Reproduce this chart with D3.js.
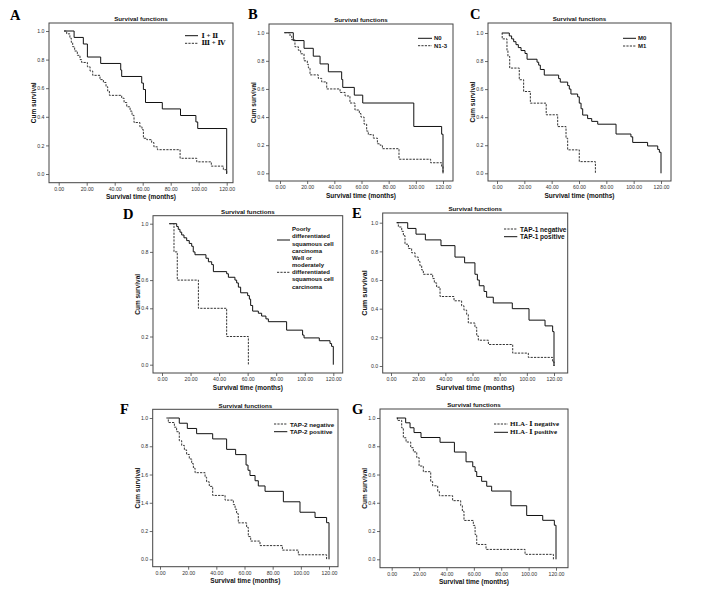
<!DOCTYPE html>
<html><head><meta charset="utf-8">
<script src="https://cdn.jsdelivr.net/npm/d3@7"></script>
<style>body{margin:0;background:#fff}svg{display:block}</style>
</head><body>
<svg id="c" width="708" height="590"></svg>
<script>
// ---------- data ----------
const xTicks = [0, 20, 40, 60, 80, 100, 120];
const yTicks = [0, 0.2, 0.4, 0.6, 0.8, 1.0];
const yTickLabels = ["0.0", "0.2", "0.4", "0.6", "0.8", "1.0"];
const yTickLabelsF = ["0.0", "0.2", "1.4", "1.6", "0.8", "1.0"];
const panelLetters = ["A", "B", "C", "D", "E", "F", "G"];
const chartTitle = "Survival functions";
const xTitle = "Survival time (months)";
const yTitle = "Cum survival";

const legendA = ["Ⅰ + Ⅱ", "Ⅲ + Ⅳ"];
const legendB = ["N0", "N1-3"];
const legendC = ["M0", "M1"];
const legendD1 = ["Poorly", "differentiated", "squamous cell", "carcinoma"];
const legendD2 = ["Well or", "moderately", "differentiated", "squamous cell", "carcinoma"];
const legendE = ["TAP-1 negative", "TAP-1 positive"];
const legendF = ["TAP-2 negative", "TAP-2 positive"];
const legendG = ["HLA- Ⅰ negative", "HLA- Ⅰ positive"];

// [time (months), cumulative survival]
const stageI_II = [[3.8,1],[11,0.955],[17.6,0.909],[20.5,0.818],[30,0.773],[44.3,0.727],[45,0.682],[59.3,0.636],[60.5,0.591],[62,0.5],[74,0.455],[87,0.409],[98,0.364],[99.3,0.318],[120,0]];
const stageIII_IV = [[3.8,1],[5.7,0.98],[8,0.95],[9,0.92],[10,0.89],[11.4,0.86],[13.3,0.83],[15.2,0.8],[16.4,0.78],[20.5,0.75],[22.4,0.72],[24.3,0.69],[29.5,0.66],[31.9,0.64],[33.8,0.61],[35,0.58],[36.2,0.55],[45,0.53],[46.7,0.5],[48.6,0.47],[51,0.44],[52.4,0.41],[53.8,0.36],[58,0.33],[59.5,0.31],[60.5,0.25],[62.9,0.24],[66.4,0.22],[68,0.19],[70.5,0.17],[86.7,0.11],[98.6,0.085],[109,0.055],[117.6,0.03],[120,0]];

const nodeN0 = [[3.2,1],[9.8,0.944],[17.7,0.889],[24.5,0.833],[29.5,0.778],[35.6,0.722],[45.4,0.667],[46.2,0.611],[54.7,0.556],[60.9,0.5],[98.5,0.333],[119,0.278],[120,0]];
const nodeN13 = [[3.2,1],[7.4,0.975],[8.6,0.95],[11,0.9],[13.5,0.875],[15.2,0.85],[17.7,0.8],[20.1,0.775],[20.9,0.75],[22.1,0.7],[28.2,0.675],[30.7,0.65],[34.4,0.6],[44.2,0.575],[47.9,0.55],[51.5,0.5],[55.2,0.45],[58.4,0.425],[59.6,0.4],[61.9,0.35],[63.8,0.3],[65,0.275],[68.7,0.25],[71.7,0.21],[73.6,0.2],[75.4,0.175],[87.6,0.1],[110.9,0.075],[119,0.05],[120,0]];

const metaM0 = [[3.7,1],[9,0.979],[10.7,0.958],[12.2,0.938],[13.9,0.917],[15.6,0.896],[17.6,0.875],[20.5,0.854],[22,0.813],[29.3,0.792],[30.5,0.771],[31.7,0.74],[34.6,0.7],[45.1,0.675],[46.3,0.65],[51.7,0.625],[52.9,0.6],[54.1,0.565],[59,0.545],[60.2,0.5],[61.5,0.46],[62.7,0.415],[66.3,0.39],[69.3,0.37],[73.7,0.35],[87.1,0.28],[98,0.26],[99.3,0.22],[110.2,0.195],[117.6,0.17],[118.8,0.15],[120,0]];
const metaM1 = [[3.5,1],[3.8,0.958],[7.3,0.875],[8,0.833],[9.3,0.75],[16.3,0.667],[19.5,0.583],[24.4,0.5],[36,0.417],[44.4,0.333],[50.5,0.25],[51.7,0.167],[60.2,0.083],[72,0]];

const diffPoor = [[5.1,1],[10.3,0.98],[11.4,0.96],[12.6,0.94],[13.8,0.92],[15.4,0.9],[17.3,0.88],[19.1,0.86],[20.8,0.84],[21.9,0.8],[23.1,0.78],[30.8,0.755],[32.5,0.73],[34.8,0.71],[36,0.66],[45.3,0.645],[46.5,0.62],[51.1,0.6],[52.3,0.58],[53.5,0.55],[55.1,0.51],[60,0.49],[61.2,0.465],[62.1,0.42],[63.5,0.38],[67.5,0.365],[69.8,0.345],[72.8,0.325],[74.5,0.305],[87.3,0.245],[98.5,0.21],[99.5,0.19],[110.2,0.17],[117.7,0.15],[118.8,0.13],[120,0]];
const diffWell = [[5.1,1],[8.4,0.8],[10.7,0.6],[25.5,0.4],[45.3,0.2],[60.5,0]];

const tap1Neg = [[4.2,1],[5.4,0.97],[7.9,0.94],[9.1,0.91],[10.3,0.85],[12.8,0.82],[15.2,0.79],[17.7,0.76],[20.1,0.73],[21.3,0.7],[22.6,0.67],[23.8,0.64],[30.7,0.61],[31.9,0.58],[33.6,0.55],[36.1,0.485],[46.4,0.455],[52,0.42],[53.7,0.39],[55.7,0.36],[56.9,0.3],[61.8,0.27],[63.1,0.21],[64.3,0.18],[71.7,0.15],[89.6,0.09],[101.1,0.06],[119,0.03],[120,0]];
const tap1Pos = [[4.2,1],[12.3,0.96],[18.4,0.92],[25.3,0.88],[36.8,0.84],[47.1,0.76],[54.2,0.72],[61.8,0.64],[63.6,0.6],[65,0.56],[68.5,0.52],[70.4,0.48],[75.3,0.44],[89.3,0.4],[101.6,0.32],[113.4,0.28],[119,0.24],[120,0]];

const tap2Neg = [[4.5,1],[5.9,0.968],[10.2,0.935],[11.8,0.903],[13.7,0.839],[15.4,0.806],[17.3,0.774],[18.9,0.742],[20.8,0.71],[22.5,0.677],[23.7,0.645],[24.9,0.613],[32,0.581],[33.1,0.548],[35,0.516],[37.4,0.452],[46.2,0.419],[52.1,0.387],[53.3,0.355],[54.4,0.323],[55.6,0.258],[61.5,0.226],[62.7,0.161],[64.4,0.129],[71,0.097],[86.9,0.065],[98.2,0.032],[118.3,0]];
const tap2Pos = [[5.9,1],[13.7,0.963],[19.4,0.926],[26,0.889],[37.4,0.852],[47.3,0.778],[53.7,0.741],[61.1,0.667],[62.5,0.63],[63.9,0.593],[67.5,0.556],[69.8,0.519],[74.6,0.481],[87.6,0.407],[99.4,0.333],[110.1,0.296],[118.3,0.259],[120,0]];

const hlaNeg = [[3.7,1],[4.2,0.983],[7.3,0.93],[8.5,0.86],[10.5,0.83],[13.9,0.79],[15.8,0.76],[18.3,0.72],[20,0.66],[23.1,0.62],[28.5,0.55],[29.9,0.52],[33.6,0.48],[34.8,0.45],[44.5,0.415],[50.4,0.38],[51.6,0.34],[52.8,0.275],[59.6,0.24],[60.9,0.175],[62.1,0.105],[68.9,0.07],[97.4,0.035],[118.1,0]];
const hlaPos = [[3.7,1],[10.2,0.966],[13.4,0.931],[16.3,0.897],[21.4,0.862],[35.3,0.828],[45.8,0.759],[54.3,0.69],[59.2,0.655],[60.9,0.621],[62.1,0.586],[65.7,0.552],[69.4,0.517],[73,0.483],[87.1,0.379],[98.6,0.31],[110.3,0.276],[118.8,0.241],[120,0]];

// ---------- layout ----------
const SANS = "'Liberation Sans', Arial, sans-serif";
const SERIF = "'Liberation Serif', 'DejaVu Serif', 'Noto Sans CJK SC', serif";
const panels = [
  {f:[49,23,233,182.7], xr:[58.7,226.7], yr:[174,31], letter:[10,20], yl:yTickLabels, fs:1,
   series:[{d:stageI_II,dash:false},{d:stageIII_IV,dash:true}],
   legend:{lx:[185,198], tx:201.5, items:[{y:35.7,dash:false,lines:[legendA[0]]},{y:43.3,dash:true,lines:[legendA[1]]}], font:SERIF, size:7}},
  {f:[269,24,453,181], xr:[280,443], yr:[173.3,32.7], letter:[248,19], yl:yTickLabels, fs:1,
   series:[{d:nodeN0,dash:false},{d:nodeN13,dash:true}],
   legend:{lx:[418,432], tx:434, items:[{y:38.3,dash:false,lines:[legendB[0]]},{y:45.7,dash:true,lines:[legendB[1]]}], font:SANS, size:6}},
  {f:[488,23,671,181], xr:[497,661], yr:[173.3,33], letter:[470,19], yl:yTickLabels, fs:1,
   series:[{d:metaM0,dash:false},{d:metaM1,dash:true}],
   legend:{lx:[623,636], tx:638, items:[{y:38.3,dash:false,lines:[legendC[0]]},{y:46,dash:true,lines:[legendC[1]]}], font:SANS, size:6}},
  {f:[153,215.7,342.7,373], xr:[162,333.3], yr:[364.7,223.7], letter:[123,219], yl:yTickLabels, fs:1,
   series:[{d:diffPoor,dash:false},{d:diffWell,dash:true}],
   legend:{lx:[277,290], tx:292, items:[{y:240,dash:false,lines:legendD1},{y:272.3,dash:true,lines:legendD2}], font:SANS, size:6, lh:7.1}},
  {f:[382.7,213,567.7,373], xr:[391,554], yr:[366,222.7], letter:[352,218], yl:yTickLabels, fs:1.12,
   series:[{d:tap1Neg,dash:true},{d:tap1Pos,dash:false}],
   legend:{lx:[504,517.3], tx:520, items:[{y:229,dash:true,lines:[legendE[0]]},{y:236.7,dash:false,lines:[legendE[1]]}], font:SANS, size:6.5}},
  {f:[152.7,409.3,338,566.7], xr:[160,329], yr:[559.3,418], letter:[120,414], yl:yTickLabelsF, fs:1,
   series:[{d:tap2Neg,dash:true},{d:tap2Pos,dash:false}],
   legend:{lx:[274,287.3], tx:290, items:[{y:424,dash:true,lines:[legendF[0]]},{y:431.7,dash:false,lines:[legendF[1]]}], font:SANS, size:6.2}},
  {f:[380,409,568,567.7], xr:[391.7,556], yr:[559.3,418], letter:[352,414], yl:yTickLabels, fs:1,
   series:[{d:hlaNeg,dash:true},{d:hlaPos,dash:false}],
   legend:{lx:[494,508], tx:510, items:[{y:424,dash:true,lines:[legendG[0]]},{y:432.3,dash:false,lines:[legendG[1]]}], font:SERIF, size:7}}
];

const svg = d3.select("#c");
svg.append("rect").attr("width",708).attr("height",590).attr("fill","#fff");
const DASH = "2.2,1.2";

panels.forEach((p, i) => {
  const g = svg.append("g");
  const x = d3.scaleLinear().domain([0,120]).range(p.xr);
  const y = d3.scaleLinear().domain([0,1]).range(p.yr);
  const [l,t,r,b] = p.f;

  // axes
  const ya = g.append("g").attr("transform",`translate(${l},0)`)
    .call(d3.axisLeft(y).tickValues(yTicks).tickSize(3).tickPadding(1.5).tickFormat((d,k)=>p.yl[k]));
  const xa = g.append("g").attr("transform",`translate(0,${b})`)
    .call(d3.axisBottom(x).tickValues(xTicks).tickSize(3).tickPadding(1.5).tickFormat(d3.format(".2f")));
  [ya,xa].forEach(a=>{
    a.select(".domain").remove();
    a.selectAll("line").attr("stroke","#444").attr("stroke-width",0.8);
    a.selectAll("text").attr("font-family",SANS).attr("font-size",5.2).attr("fill","#333");
  });

  // frame
  g.append("rect").attr("x",l).attr("y",t).attr("width",r-l).attr("height",b-t)
    .attr("fill","none").attr("stroke","#444").attr("stroke-width",1);

  // curves
  const line = d3.line().x(d=>x(d[0])).y(d=>y(d[1])).curve(d3.curveStepAfter);
  p.series.forEach(s=>{
    g.append("path").attr("d",line(s.d)).attr("fill","none")
      .attr("stroke", s.dash ? "#333" : "#111").attr("stroke-width",1)
      .attr("stroke-dasharray", s.dash ? DASH : null);
  });

  // titles
  g.append("text").attr("x",(l+r)/2).attr("y",t-1.8).attr("text-anchor","middle")
    .attr("font-family",SANS).attr("font-weight","bold").attr("font-size",6.2).attr("fill","#111").text(chartTitle);
  g.append("text").attr("x",(l+r)/2).attr("y",b+16.5).attr("text-anchor","middle")
    .attr("font-family",SANS).attr("font-weight","bold").attr("font-size",6.5*p.fs).attr("fill","#111").text(xTitle);
  g.append("text").attr("transform",`translate(${l-13-2*(p.fs-1)*10},${(t+b)/2}) rotate(-90)`).attr("text-anchor","middle")
    .attr("font-family",SANS).attr("font-weight","bold").attr("font-size",6.5*p.fs).attr("fill","#111").text(yTitle);

  // panel letter
  g.append("text").attr("x",p.letter[0]).attr("y",p.letter[1])
    .attr("font-family","'Liberation Serif', serif").attr("font-weight","bold").attr("font-size",14.5).attr("fill","#000")
    .text(panelLetters[i]);

  // legend
  const L = p.legend;
  L.items.forEach(it=>{
    g.append("line").attr("x1",L.lx[0]).attr("x2",L.lx[1]).attr("y1",it.y).attr("y2",it.y)
      .attr("stroke", it.dash ? "#333" : "#111").attr("stroke-width",1)
      .attr("stroke-dasharray", it.dash ? DASH : null);
    const lh = L.lh || 0;
    const n = it.lines.length;
    it.lines.forEach((txt,k)=>{
      g.append("text").attr("x",L.tx).attr("y", it.y + (k-(n-1)/2)*lh)
        .attr("dominant-baseline","central")
        .attr("font-family",L.font).attr("font-weight","bold").attr("font-size",L.size).attr("fill","#111")
        .text(txt);
    });
  });
});
</script>
</body></html>
